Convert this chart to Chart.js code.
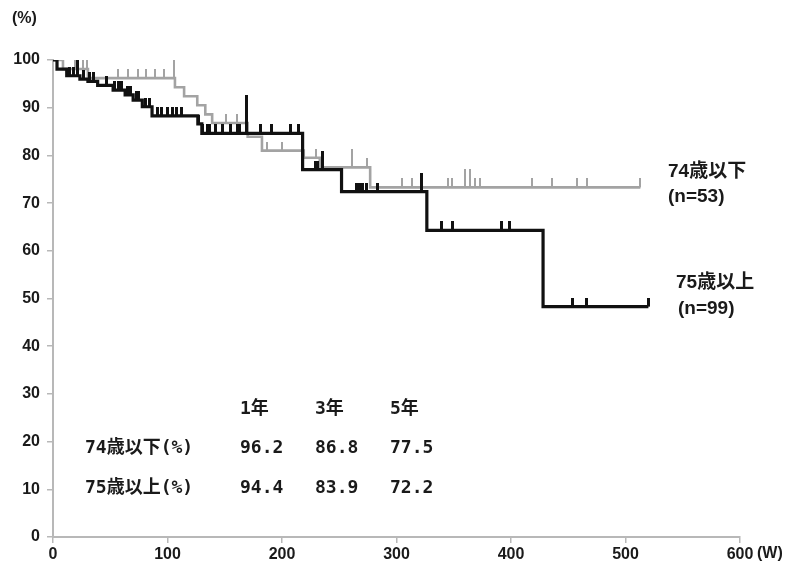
<!DOCTYPE html>
<html>
<head>
<meta charset="utf-8">
<script src="https://cdn.jsdelivr.net/npm/chart.js@4/dist/chart.umd.min.js"></script>
<style>
  html, body { margin: 0; padding: 0; background: #fff; }
  #wrap { position: relative; width: 790px; height: 570px; overflow: hidden; }
  #c { position: absolute; left: 0; top: 0; }
  .t { position: absolute; white-space: nowrap; color: #1a1a1a; font-weight: bold; line-height: 20px; }
  .lab { font-family: 'Liberation Sans', 'Noto Sans CJK JP', sans-serif; font-size: 19px; }
  .tab { font-family: 'DejaVu Sans Mono', 'Noto Sans CJK JP', monospace; font-size: 18px; }
  .ax { font-family: 'Liberation Sans', sans-serif; font-size: 16px; }
  .axn { font-family: 'Liberation Sans Narrow', 'Liberation Sans', sans-serif; font-size: 16px; }
</style>
</head>
<body>
<div id="wrap">
  <canvas id="c" width="790" height="570"></canvas>
</div>
<script>
// ---- Data (weeks, survival %) ----
const xTicks = [0, 100, 200, 300, 400, 500, 600];
const yTicks = [0, 10, 20, 30, 40, 50, 60, 70, 80, 90, 100];

// 75歳以上 (n=99) – step curve
const olderTimes = [0, 3.5, 12, 23.5, 30.5, 39, 52.5, 63, 70, 78, 86.5, 126.5, 130, 218, 252, 326.5, 428, 520];
const olderSurv  = [100, 98.1, 96.7, 96.0, 95.5, 94.7, 93.7, 92.7, 91.6, 90.2, 88.3, 86.6, 84.6, 77.0, 72.4, 64.3, 48.3, 48.3];
const olderCensor = [14.8, 18.3, 27, 32.3, 35, 47, 54, 57.6, 60, 65.5, 68, 72.5, 75, 81, 84, 91, 95, 99.6, 104, 108, 112,
                     127.5, 131, 134.5, 137, 141.5, 147.6, 154.6, 160.7, 163.3, 181, 191, 207, 214, 229, 231.4,
                     265.5, 268, 270.7, 274, 283, 339.7, 348.5, 392, 399, 454, 466, 520];
const olderCensorTall = [21, 235, 322];
const olderCensorHigh = [169.4];

// 74歳以下 (n=53) – step curve
const youngerTimes = [0, 8.7, 30.5, 106.5, 114.5, 126, 133, 139, 170, 182.5, 219, 233, 277, 513];
const youngerSurv  = [100, 98.1, 96.2, 94.3, 92.4, 90.5, 88.6, 86.8, 83.9, 81.0, 79.5, 77.5, 73.3, 73.3];
const youngerCensor = [19.2, 26.2, 29.7, 56.8, 65.5, 74.2, 81.2, 89, 97, 151, 160.7, 187, 200, 229.7, 274,
                       305, 313.5, 345, 348.5, 368.5, 373, 418, 436, 457.6, 466, 512.7];
const youngerCensorTall = [106, 261, 360, 364];

// Table
const tableYears = ['1年', '3年', '5年'];
const rowLabels = ['74歳以下(%)', '75歳以上(%)'];
const youngerRates = ['96.2', '86.8', '77.5'];
const olderRates = ['94.4', '83.9', '72.2'];

// ---- helpers ----
function survAt(times, surv, t) {
  let v = surv[0];
  for (let i = 0; i < times.length; i++) { if (times[i] <= t) v = surv[i]; }
  return v;
}
function curve(times, surv) { return times.map((t, i) => ({ x: t, y: surv[i] })); }
function marks(list, times, surv) { return list.map(t => ({ x: t, y: survAt(times, surv, t) })); }
function tickImg(color, w, h) {
  const c = document.createElement('canvas');
  c.width = w; c.height = h * 2;
  const g = c.getContext('2d');
  g.fillStyle = color;
  g.fillRect(0, 0, w, h);
  return c;
}

const BLACK = '#111111';
const GREY = '#a3a3a3';
const AXIS = '#b8b8b8';

function censorSet(data, img) {
  return { type: 'line', data, showLine: false, pointStyle: img, pointRadius: 3, pointHoverRadius: 3,
           borderColor: 'transparent', backgroundColor: 'transparent' };
}

const datasets = [
  censorSet(marks(olderCensor, olderTimes, olderSurv), tickImg(BLACK, 3, 9)),
  censorSet(marks(olderCensorTall, olderTimes, olderSurv), tickImg(BLACK, 3, 19)),
  censorSet(marks(olderCensorHigh, olderTimes, olderSurv), tickImg(BLACK, 3, 38)),
  { type: 'line', label: '75歳以上', data: curve(olderTimes, olderSurv), stepped: 'before',
    borderColor: BLACK, borderWidth: 3.2, pointRadius: 0, fill: false },
  censorSet(marks(youngerCensor, youngerTimes, youngerSurv), tickImg(GREY, 2, 9)),
  censorSet(marks(youngerCensorTall, youngerTimes, youngerSurv), tickImg(GREY, 2, 18)),
  { type: 'line', label: '74歳以下', data: curve(youngerTimes, youngerSurv), stepped: 'before',
    borderColor: GREY, borderWidth: 2.6, pointRadius: 0, fill: false }
];

new Chart(document.getElementById('c'), {
  type: 'line',
  data: { datasets },
  options: {
    responsive: false,
    animation: false,
    events: [],
    layout: { padding: { top: 60, right: 50, left: 0, bottom: 0 } },
    plugins: { legend: { display: false }, tooltip: { enabled: false } },
    scales: {
      x: {
        type: 'linear', min: 0, max: 600,
        afterBuildTicks: s => { s.ticks = xTicks.map(v => ({ value: v })); },
        ticks: { color: '#1a1a1a', padding: 2, maxRotation: 0,
                 font: { family: "'Liberation Sans Narrow', 'Liberation Sans', sans-serif", size: 16, weight: 'bold' } },
        grid: { drawOnChartArea: false, drawTicks: true, tickLength: 6, color: AXIS, lineWidth: 1.5 },
        border: { display: true, color: AXIS, width: 2 },
        afterFit: s => { s.height = 33; }
      },
      y: {
        type: 'linear', min: 0, max: 100,
        afterBuildTicks: s => { s.ticks = yTicks.map(v => ({ value: v })); },
        ticks: { color: '#1a1a1a', padding: 7,
                 font: { family: "'Liberation Sans', sans-serif", size: 16, weight: 'bold' } },
        grid: { drawOnChartArea: false, drawTicks: true, tickLength: 6, color: AXIS, lineWidth: 1.5 },
        border: { display: true, color: AXIS, width: 2 },
        afterFit: s => { s.width = 53; }
      }
    }
  }
});

// ---- text overlays ----
const wrap = document.getElementById('wrap');
function addText(txt, cls, left, top) {
  const d = document.createElement('div');
  d.className = 't ' + cls;
  d.textContent = txt;
  d.style.left = left + 'px';
  d.style.top = top + 'px';
  wrap.appendChild(d);
}
addText('(%)', 'ax', 12, 8);
addText('(W)', 'axn', 757, 543);
addText('74歳以下', 'lab', 668, 161);
addText('(n=53)', 'lab', 668, 186);
addText('75歳以上', 'lab', 676, 272);
addText('(n=99)', 'lab', 678, 298);

const colX = [240, 315, 390];
tableYears.forEach((y, i) => addText(y, 'tab', colX[i], 398));
addText(rowLabels[0], 'tab', 85, 437);
addText(rowLabels[1], 'tab', 85, 477);
youngerRates.forEach((v, i) => addText(v, 'tab', colX[i], 437));
olderRates.forEach((v, i) => addText(v, 'tab', colX[i], 477));
</script>
</body>
</html>
